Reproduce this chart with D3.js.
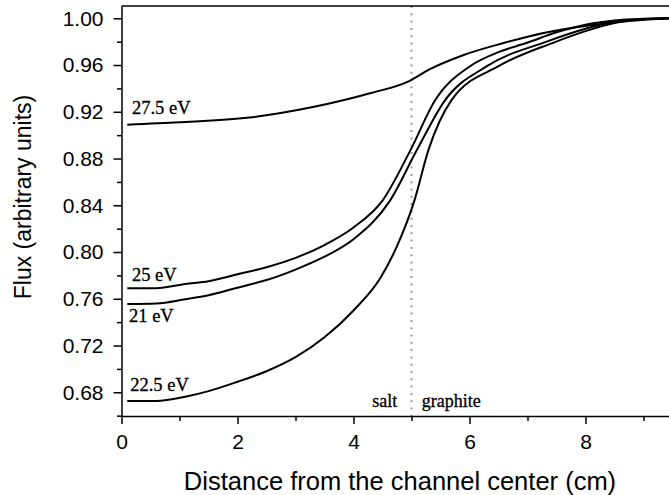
<!DOCTYPE html>
<html>
<head>
<meta charset="utf-8">
<script src="https://cdn.jsdelivr.net/npm/d3@7"></script>
<style>
  html, body { margin: 0; padding: 0; background: #fff; overflow: hidden; }
  svg { display: block; }
</style>
</head>
<body>
<div id="chart"></div>
<script>
// distance from channel center (cm) / flux values
const x275 = [0.1, 1.0, 2.2, 3.3, 4.3, 4.95, 5.3, 5.9, 6.6, 7.3, 8.0, 8.8, 9.5];
const flux275 = [0.909, 0.911, 0.915, 0.924, 0.936, 0.946, 0.956, 0.9686, 0.979, 0.9877, 0.9934, 0.998, 1.0];

const x25 = [0.1, 0.6, 1.1, 1.5, 2.0, 2.5, 3.0, 3.5, 4.0, 4.5, 4.98, 5.41, 6.01, 6.5, 6.99, 7.5, 8.0, 8.5, 9.0, 9.5];
const flux25 = [0.769, 0.769, 0.7727, 0.775, 0.781, 0.787, 0.795, 0.806, 0.821, 0.844, 0.887, 0.930, 0.959, 0.971, 0.979, 0.988, 0.9945, 0.998, 0.9995, 1.0];

const x21 = [0.1, 0.6, 1.1, 1.5, 2.0, 2.5, 3.0, 3.5, 4.0, 4.63, 5.09, 5.58, 6.3, 7.33, 8.0, 8.5, 9.0, 9.5];
const flux21 = [0.7556, 0.756, 0.7596, 0.763, 0.7695, 0.776, 0.785, 0.796, 0.811, 0.844, 0.887, 0.930, 0.959, 0.980, 0.991, 0.997, 0.9993, 1.0];

const x225 = [0.1, 0.6, 1.1, 1.5, 2.0, 2.5, 3.0, 3.5, 4.0, 4.46, 4.75, 5.05, 5.29, 5.69, 6.5, 7.44, 8.0, 8.5, 9.0, 9.5];
const flux225 = [0.6726, 0.6726, 0.6762, 0.681, 0.689, 0.698, 0.710, 0.727, 0.750, 0.7775, 0.805, 0.844, 0.887, 0.930, 0.959, 0.979, 0.989, 0.996, 0.999, 1.0];

const seriesNames = ["27.5 eV", "25 eV", "21 eV", "22.5 eV"];
const seriesX = [x275, x25, x21, x225];
const seriesY = [flux275, flux25, flux21, flux225];

const yTicks = [0.68, 0.72, 0.76, 0.80, 0.84, 0.88, 0.92, 0.96, 1.00];
const yMinor = [0.66, 0.70, 0.74, 0.78, 0.82, 0.86, 0.90, 0.94, 0.98];
const xTicks = [0, 2, 4, 6, 8];
const xMinor = [1, 3, 5, 7, 9];

const boundary = 5; // salt / graphite interface

// label anchors in data units
const labelX = [0.18, 0.18, 0.13, 0.15];
const labelY = [0.9181, 0.7755, 0.7404, 0.6814];

const width = 669, height = 495;
const margin = { top: 6, left: 121.5, bottom: 79 };

const x = d3.scaleLinear().domain([0, 10]).range([margin.left, margin.left + 580]);
const y = d3.scaleLinear().domain([0.6597, 1.0105]).range([height - margin.bottom, margin.top]);

const svg = d3.select("#chart").append("svg")
  .attr("width", width)
  .attr("height", height);

const sans = "'Liberation Sans', Arial, sans-serif";
const serif = "'Liberation Serif', 'Times New Roman', serif";

// boundary line (dotted)
svg.append("line")
  .attr("x1", x(boundary)).attr("x2", x(boundary))
  .attr("y1", y.range()[1]).attr("y2", y.range()[0])
  .attr("stroke", "#999")
  .attr("stroke-width", 2)
  .attr("stroke-dasharray", "2,5.3");

// curves
const line = d3.line().curve(d3.curveMonotoneX);
seriesNames.forEach((name, i) => {
  const pts = seriesX[i].map((d, j) => [x(d), y(seriesY[i][j])]);
  svg.append("path")
    .attr("d", line(pts))
    .attr("fill", "none")
    .attr("stroke", "#000")
    .attr("stroke-width", 2);

  svg.append("text")
    .attr("x", x(labelX[i]))
    .attr("y", y(labelY[i]))
    .attr("stroke", "#000").attr("stroke-width", 0.3)
    .style("font", `18.5px ${serif}`)
    .text(name);
});

// salt / graphite labels
svg.append("text")
  .attr("x", x(4.755)).attr("y", y(0.6676))
  .attr("text-anchor", "end")
  .attr("stroke", "#000").attr("stroke-width", 0.3)
  .style("font", `18px ${serif}`)
  .text("salt");
svg.append("text")
  .attr("x", x(5.176)).attr("y", y(0.6676))
  .attr("stroke", "#000").attr("stroke-width", 0.3)
  .style("font", `18px ${serif}`)
  .text("graphite");

// axes
svg.append("g")
  .attr("transform", `translate(${margin.left},0)`)
  .call(d3.axisLeft(y).tickValues(yTicks).tickFormat(d3.format(".2f"))
    .tickSize(8).tickSizeOuter(0).tickPadding(10));
svg.append("g")
  .attr("transform", `translate(${margin.left},0)`)
  .call(d3.axisLeft(y).tickValues(yMinor).tickFormat("").tickSize(4.5).tickSizeOuter(0))
  .call(g => g.select(".domain").remove());

svg.append("g")
  .attr("transform", `translate(0,${y.range()[0]})`)
  .call(d3.axisBottom(x).tickValues(xTicks).tickFormat(d3.format("d"))
    .tickSize(8).tickSizeOuter(0).tickPadding(10));
svg.append("g")
  .attr("transform", `translate(0,${y.range()[0]})`)
  .call(d3.axisBottom(x).tickValues(xMinor).tickFormat("").tickSize(5).tickSizeOuter(0))
  .call(g => g.select(".domain").remove());

svg.selectAll(".tick line").attr("stroke", "#000").attr("stroke-width", 1.5);
svg.selectAll(".domain").attr("stroke", "#000").attr("stroke-width", 1.5);
svg.selectAll(".tick text")
  .attr("fill", "#000")
  .style("font", `21px ${sans}`);

// top frame line
svg.append("line")
  .attr("x1", margin.left).attr("x2", x.range()[1])
  .attr("y1", y.range()[1]).attr("y2", y.range()[1])
  .attr("stroke", "#000")
  .attr("stroke-width", 1.5);

// axis titles
svg.append("text")
  .attr("transform", `translate(31,197) rotate(-90)`)
  .attr("text-anchor", "middle")
  .style("font", `23px ${sans}`)
  .text("Flux (arbitrary units)");

svg.append("text")
  .attr("x", 400).attr("y", 490)
  .attr("text-anchor", "middle")
  .style("font", `25.5px ${sans}`)
  .text("Distance from the channel center (cm)");
</script>
</body>
</html>
